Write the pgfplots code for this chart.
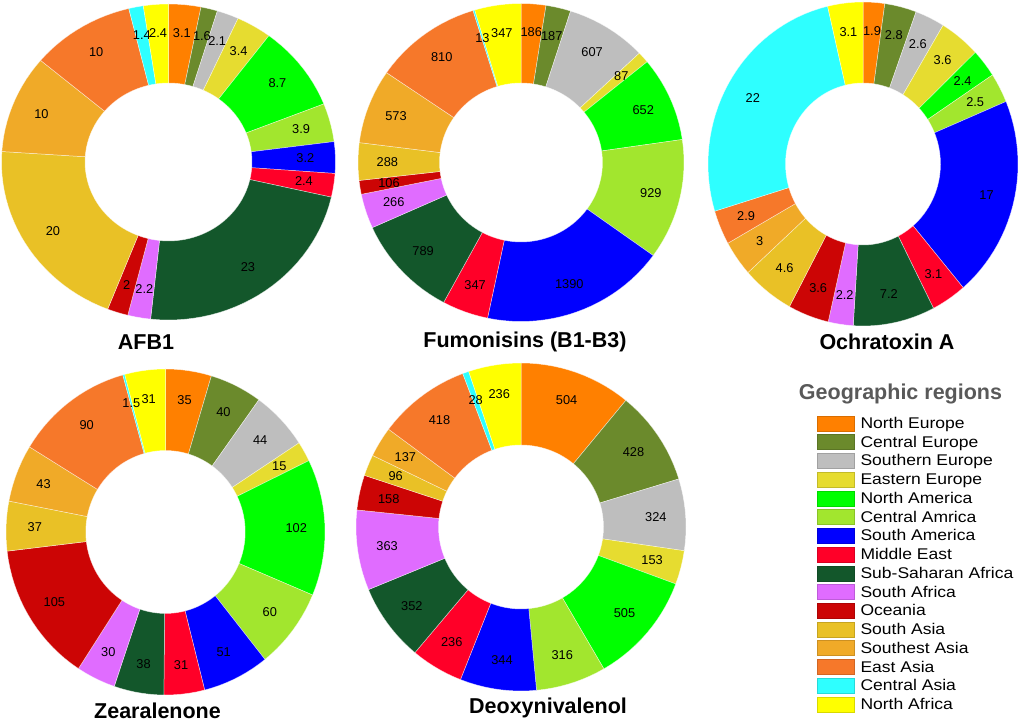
\documentclass[border=0pt]{standalone}
\usepackage{fontspec}
\setmainfont{Liberation Sans}
\usepackage{pgfplots}
\pgfplotsset{compat=1.18}
\definecolor{r1}{HTML}{FF8000}
\definecolor{r2}{HTML}{6B8A2C}
\definecolor{r3}{HTML}{BEBEBE}
\definecolor{r4}{HTML}{E6DC30}
\definecolor{r5}{HTML}{00FF00}
\definecolor{r6}{HTML}{A2E62E}
\definecolor{r7}{HTML}{0000FF}
\definecolor{r8}{HTML}{FF0028}
\definecolor{r9}{HTML}{13572B}
\definecolor{r10}{HTML}{E06CFF}
\definecolor{r11}{HTML}{CC0505}
\definecolor{r12}{HTML}{E9C126}
\definecolor{r13}{HTML}{F0AA28}
\definecolor{r14}{HTML}{F6782A}
\definecolor{r15}{HTML}{2EFFFF}
\definecolor{r16}{HTML}{FFFF00}
\newcommand\lblfont{\fontsize{12.8}{14}\selectfont}
\newcommand\ttlfont{\fontsize{21.5}{25}\selectfont\bfseries}
\newcount\wk
% builds \wkAll (wedge plots) and \wkLabels (value labels) from the plain values
\newcommand\prepdonut[1]{%
  \def\wkTot{0}%
  \pgfplotsforeachungrouped \wkVal in {#1}{\pgfmathsetmacro\wkTot{\wkTot+\wkVal}}%
  \def\wkCum{0}\def\wkIdx{0}\def\wkLabels{}\def\wkAll{}%
  \pgfplotsforeachungrouped \wkVal in {#1}{%
    \pgfmathtruncatemacro\wkIdx{\wkIdx+1}%
    \pgfmathsetmacro\wkS{\wkCum/\wkTot*360}%
    \pgfmathsetmacro\wkCum{\wkCum+\wkVal}%
    \pgfmathsetmacro\wkE{\wkCum/\wkTot*360}%
    \pgfmathtruncatemacro\wkN{max(1,ceil((\wkE-\wkS)/3))}%
    \def\wkPts{}%
    \wk=0
    \loop
      \pgfmathsetmacro\wkAng{\wkS+(\wkE-\wkS)*\the\wk/\wkN}%
      \pgfmathsetmacro\wkX{sin(\wkAng)}\pgfmathsetmacro\wkY{cos(\wkAng)}%
      \edef\wkPts{\wkPts(\wkX,\wkY) }%
    \ifnum\wk<\wkN\relax \advance\wk by 1 \repeat
    \wk=\wkN\relax
    \loop
      \pgfmathsetmacro\wkAng{\wkS+(\wkE-\wkS)*\the\wk/\wkN}%
      \pgfmathsetmacro\wkX{0.5*sin(\wkAng)}\pgfmathsetmacro\wkY{0.5*cos(\wkAng)}%
      \edef\wkPts{\wkPts(\wkX,\wkY) }%
    \ifnum\wk>0 \advance\wk by -1 \repeat
    \pgfmathsetmacro\wkX{sin(\wkS)}\pgfmathsetmacro\wkY{cos(\wkS)}%
    \edef\wkPts{\wkPts(\wkX,\wkY)}%
    \edef\wkAll{\unexpanded\expandafter{\wkAll}\noexpand\addplot[fill=r\wkIdx,draw=white,draw opacity=0.6,line width=0.5pt] coordinates {\wkPts};}%
    \pgfmathsetmacro\wkMid{(\wkS+\wkE)/2}%
    \pgfmathsetmacro\wkX{0.82*sin(\wkMid)}\pgfmathsetmacro\wkY{0.82*cos(\wkMid)}%
    \edef\wkLabels{\unexpanded\expandafter{\wkLabels}\noexpand\node[font=\noexpand\lblfont,text=black,inner sep=0pt] at (axis cs:\wkX,\wkY) {\wkVal};}%
  }%
}
\pgfplotsset{donutaxis/.style={scale only axis,hide axis,clip=false,anchor=center,
  xmin=-1,xmax=1,ymin=-1,ymax=1}}
\newcommand\legitem[2]{\addlegendimage{fill=#1,draw=#1!85!black}\addlegendentry{\hspace{6pt}\scalebox{1.13}[1]{#2}}}
\begin{document}
\begin{tikzpicture}[x=1pt,y=1pt]
\useasboundingbox (0,0) rectangle (1020,722);
\prepdonut{3.1,1.6,2.1,3.4,8.7,3.9,3.2,2.4,23,2.2,2,20,10,10,1.4,2.4}
\begin{axis}[donutaxis,at={(168.5pt,560pt)},width=334pt,height=316pt]
\wkAll
\wkLabels
\end{axis}
\prepdonut{186,187,607,87,652,929,1390,347,789,266,106,288,573,810,13,347}
\begin{axis}[donutaxis,at={(521pt,559.5pt)},width=326pt,height=318pt]
\wkAll
\wkLabels
\end{axis}
\prepdonut{1.9,2.8,2.6,3.6,2.4,2.5,17,3.1,7.2,2.2,3.6,4.6,3,2.9,22,3.1}
\begin{axis}[donutaxis,at={(863pt,558pt)},width=310pt,height=324pt]
\wkAll
\wkLabels
\end{axis}
\prepdonut{35,40,44,15,102,60,51,31,38,30,105,37,43,90,1.5,31}
\begin{axis}[donutaxis,at={(165.5pt,190pt)},width=319pt,height=326pt]
\wkAll
\wkLabels
\end{axis}
\prepdonut{504,428,324,153,505,316,344,236,352,363,158,96,137,418,28,236}
\begin{axis}[donutaxis,at={(521pt,195pt)},width=330pt,height=328pt]
\wkAll
\wkLabels
\end{axis}
\begin{axis}[scale only axis,hide axis,clip=false,at={(0pt,0pt)},anchor=south west,
  width=1020pt,height=722pt,xmin=0,xmax=1020,ymin=0,ymax=722,
  legend cell align=left,
  legend image code/.code={\draw[#1,line width=0.5pt] (0pt,-7.85pt) rectangle (37pt,7.15pt);},
  legend style={at={(817/1020,306.5/722)},anchor=north west,draw=none,fill=none,inner sep=0pt,outer sep=0pt,
    row sep=3.14pt,column sep=0pt,
    nodes={inner sep=0pt,outer sep=0pt,text height=13pt,text depth=2pt,font=\fontsize{15.5}{18}\selectfont}}]
\legitem{r1}{North Europe}
\legitem{r2}{Central Europe}
\legitem{r3}{Southern Europe}
\legitem{r4}{Eastern Europe}
\legitem{r5}{North America}
\legitem{r6}{Central Amrica}
\legitem{r7}{South America}
\legitem{r8}{Middle East}
\legitem{r9}{Sub-Saharan Africa}
\legitem{r10}{South Africa}
\legitem{r11}{Oceania}
\legitem{r12}{South Asia}
\legitem{r13}{Southest Asia}
\legitem{r14}{East Asia}
\legitem{r15}{Central Asia}
\legitem{r16}{North Africa}
\end{axis}
\node[font=\ttlfont] at (146,380) {AFB1};
\node[font=\ttlfont] at (525,380) {Fumonisins (B1-B3)};
\node[font=\ttlfont] at (887,380) {Ochratoxin A};
\node[font=\ttlfont,inner sep=0pt] at (157.5,11) {Zearalenone};
\node[font=\ttlfont] at (548,14) {Deoxynivalenol};
\node[font=\ttlfont,text=black!65] at (900.5,328) {Geographic regions};
\end{tikzpicture}
\end{document}
